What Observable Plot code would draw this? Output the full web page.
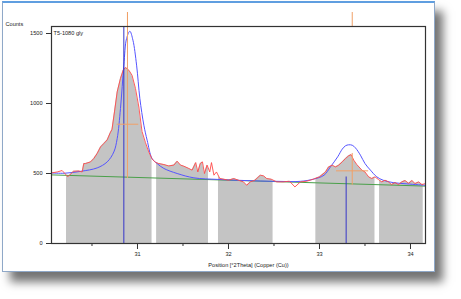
<!DOCTYPE html>
<html>
<head>
<meta charset="utf-8">
<script src="https://cdn.jsdelivr.net/npm/d3@7"></script>
<script src="https://cdn.jsdelivr.net/npm/@observablehq/plot@0.6"></script>
<style>
  html, body { margin: 0; padding: 0; background: #ffffff; }
  #page { position: relative; width: 461px; height: 299px; overflow: hidden; background: #ffffff; }
  #win { position: absolute; left: 2px; top: 1px; width: 433px; height: 271px; box-sizing: border-box;
         background: #ffffff; border: 1px solid #8fa8c8; border-top: 2px solid #5f9ee0;
         box-shadow: 8px 10px 9px rgba(0,0,0,0.55); }
  #chart { position: absolute; left: 0; top: 0; }
</style>
</head>
<body>
<div id="page">
  <div id="win"></div>
  <div id="chart"></div>
</div>
<script>
// Measured profile (red)
const redX = [30.055, 30.117, 30.172, 30.209, 30.23, 30.245, 30.297, 30.355, 30.392, 30.41, 30.428, 30.484, 30.52, 30.557, 30.594, 30.63, 30.667, 30.70, 30.72, 30.747, 30.777, 30.813, 30.843, 30.869, 30.905, 30.94, 30.978, 31.015, 31.05, 31.088, 31.124, 31.16, 31.197, 31.234, 31.29, 31.344, 31.40, 31.436, 31.473, 31.51, 31.564, 31.60, 31.64, 31.663, 31.69, 31.714, 31.736, 31.765, 31.794, 31.813, 31.84, 31.868, 31.905, 31.95, 32.0, 32.058, 32.11, 32.165, 32.20, 32.24, 32.29, 32.35, 32.386, 32.42, 32.47, 32.53, 32.60, 32.67, 32.73, 32.79, 32.86, 32.93, 33.0, 33.066, 33.10, 33.14, 33.176, 33.21, 33.25, 33.286, 33.32, 33.348, 33.377, 33.41, 33.466, 33.50, 33.54, 33.575, 33.61, 33.648, 33.685, 33.72, 33.76, 33.79, 33.83, 33.868, 33.905, 33.94, 33.98, 34.016, 34.05, 34.09, 34.126, 34.165];
const redY = [504, 511, 521, 495, 478, 483, 516, 518, 511, 571, 571, 583, 607, 643, 690, 714, 740, 790, 815, 940, 1083, 1179, 1238, 1257, 1238, 1202, 1107, 975, 800, 720, 654, 604, 580, 571, 564, 554, 560, 588, 560, 552, 536, 524, 578, 511, 571, 583, 500, 560, 511, 578, 488, 511, 464, 459, 452, 464, 452, 440, 416, 440, 452, 488, 483, 464, 459, 440, 440, 445, 404, 440, 445, 459, 476, 511, 547, 559, 547, 559, 583, 607, 626, 635, 595, 564, 524, 511, 476, 464, 476, 457, 440, 452, 440, 421, 435, 421, 440, 450, 430, 450, 428, 440, 421, 428];

// Fitted profile (blue)
const blueX = [30.055, 30.20, 30.38, 30.557, 30.667, 30.74, 30.777, 30.813, 30.85, 30.88, 30.916, 30.95, 30.99, 31.026, 31.07, 31.106, 31.16, 31.216, 31.29, 31.436, 31.62, 31.876, 32.17, 32.53, 32.79, 32.93, 33.05, 33.12, 33.20, 33.25, 33.286, 33.32, 33.36, 33.395, 33.45, 33.50, 33.56, 33.63, 33.70, 33.81, 33.96, 34.165];
const blueY = [504, 502, 516, 540, 583, 654, 750, 964, 1274, 1464, 1516, 1452, 1274, 1036, 845, 738, 607, 571, 536, 500, 469, 458, 450, 444, 444, 459, 488, 547, 619, 674, 698, 705, 702, 683, 631, 571, 524, 476, 452, 435, 426, 416];

// Background (green)
const greenX = [30.055, 34.165];
const greenY = [490, 410];

// Gaps between the grey measurement bands
const gapStart = [30.055, 31.16, 31.78, 32.49, 33.61, 34.14];
const gapEnd   = [30.22, 31.21, 31.89, 32.96, 33.66, 34.165];

// Peak markers
const peakPos   = [30.85, 33.293];
const peakTop   = [1550, 475];
const markPos   = [30.89, 33.36];
const markLow   = [464, 416];
const markHigh  = [1650, 643];
const markTop   = [1550, 1550];
const markTopHi = [1650, 1650];
const fwhmY     = [852, 519];
const fwhmX1    = [30.777, 33.187];
const fwhmX2    = [31.014, 33.54];

const yTicks = [0, 500, 1000, 1500];
const xTicks = [31, 32, 33, 34];
const xMinor = [30.5, 31.5, 32.5, 33.5];

const red = redX.map((x, i) => ({x, y: redY[i]}));
const blue = blueX.map((x, i) => ({x, y: blueY[i]}));
const green = greenX.map((x, i) => ({x, y: greenY[i]}));
const gaps = gapStart.map((a, i) => ({x1: a, x2: gapEnd[i]}));
const peaks = peakPos.map((x, i) => ({x, y2: peakTop[i]}));
const marks = markPos.map((x, i) => ({x, y1: markLow[i], y2: markHigh[i]}));
const marksTop = markPos.map((x, i) => ({x, y1: markTop[i], y2: markTopHi[i]}));
const fwhm = fwhmY.map((y, i) => ({y, x1: fwhmX1[i], x2: fwhmX2[i]}));

const font = "Liberation Sans, Arial, sans-serif";

const chart = Plot.plot({
  width: 461,
  height: 299,
  marginLeft: 51,
  marginRight: 36,
  marginTop: 26,
  marginBottom: 56,
  style: {background: "transparent", fontFamily: font, fontSize: "5.6px", color: "#222"},
  x: {domain: [30.055, 34.165]},
  y: {domain: [0, 1550]},
  marks: [
    Plot.areaY(red, {x: "x", y: "y", fill: "#c4c4c4"}),
    Plot.rect(gaps, {x1: "x1", x2: "x2", y1: 0, y2: 1320, fill: "white"}),
    Plot.line(green, {x: "x", y: "y", stroke: "#4aa04a", strokeWidth: 1}),
    Plot.line(blue, {x: "x", y: "y", stroke: "#5555ff", strokeWidth: 1, curve: "catmull-rom"}),
    Plot.line(red, {x: "x", y: "y", stroke: "#ff4a4a", strokeWidth: 0.9}),
    Plot.ruleX(peaks, {x: "x", y1: 0, y2: "y2", stroke: "#3535c8", strokeWidth: 1}),
    Plot.ruleX(marks, {x: "x", y1: "y1", y2: "y2", stroke: "#f0a068", strokeWidth: 1}),
    Plot.ruleX(marksTop, {x: "x", y1: "y1", y2: "y2", stroke: "#f0a068", strokeWidth: 1}),
    Plot.ruleY(fwhm, {y: "y", x1: "x1", x2: "x2", stroke: "#f0a068", strokeWidth: 1}),
    Plot.frame({stroke: "#333", strokeWidth: 1.2}),
    Plot.axisY({ticks: yTicks, tickSize: 5, tickPadding: 4, tickFormat: d => String(d), label: null, stroke: "#333", fontSize: 5.6}),
    Plot.axisX({ticks: xTicks, tickSize: 6, tickPadding: 3, tickFormat: d => String(d), label: null, stroke: "#333", fontSize: 5.6}),
    Plot.axisX({ticks: xMinor, tickSize: 3, text: null, label: null, stroke: "#333"}),
    Plot.text(["Counts"], {frameAnchor: "top-left", dx: -46, dy: -4, textAnchor: "start", fontSize: 5.6, fill: "#222"}),
    Plot.text(["T5-1080 gly"], {frameAnchor: "top-left", dx: 2, dy: 4.5, textAnchor: "start", fontSize: 5.6, fill: "#222"}),
    Plot.text(["Position [°2Theta] (Copper (Cu))"], {frameAnchor: "bottom", dx: 10, dy: 23, fontSize: 5.6, fill: "#222"})
  ]
});
document.getElementById("chart").appendChild(chart);
</script>
</body>
</html>
